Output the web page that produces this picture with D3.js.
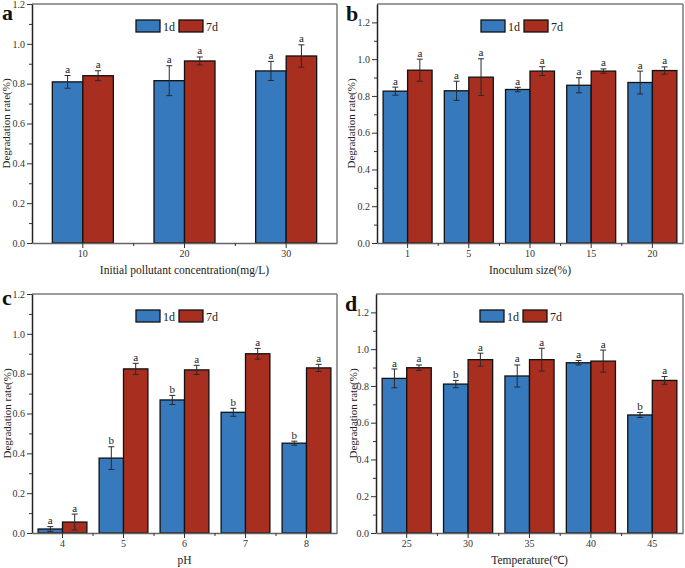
<!DOCTYPE html>
<html><head><meta charset="utf-8">
<script src="https://cdn.jsdelivr.net/npm/d3@7"></script>
<style>
body{margin:0;background:#fff}
svg{display:block}
text{font-family:"Liberation Serif","Times New Roman",serif}
</style>
</head><body>
<svg id="chart" width="685" height="568"></svg>
<script>
// ---- data ----
const seriesNames = ["1d", "7d"];

const catsA = ["10", "20", "30"];
const a1d = [0.809, 0.815, 0.864];
const a7d = [0.840, 0.914, 0.939];
const a1dErr = [0.032, 0.075, 0.048];
const a7dErr = [0.025, 0.020, 0.056];
const a1dSig = ["a", "a", "a"];
const a7dSig = ["a", "a", "a"];

const catsB = ["1", "5", "10", "15", "20"];
const b1d = [0.826, 0.828, 0.835, 0.858, 0.873];
const b7d = [0.940, 0.902, 0.935, 0.935, 0.938];
const b1dErr = [0.022, 0.052, 0.012, 0.041, 0.062];
const b7dErr = [0.060, 0.100, 0.024, 0.012, 0.020];
const b1dSig = ["a", "a", "a", "a", "a"];
const b7dSig = ["a", "a", "a", "a", "a"];

const catsC = ["4", "5", "6", "7", "8"];
const c1d = [0.020, 0.376, 0.668, 0.606, 0.451];
const c7d = [0.055, 0.824, 0.819, 0.900, 0.829];
const c1dErr = [0.012, 0.057, 0.023, 0.020, 0.010];
const c7dErr = [0.040, 0.028, 0.023, 0.027, 0.018];
const c1dSig = ["a", "b", "b", "b", "b"];
const c7dSig = ["a", "a", "a", "a", "a"];

const catsD = ["25", "30", "35", "40", "45"];
const d1d = [0.841, 0.810, 0.854, 0.926, 0.642];
const d7d = [0.899, 0.943, 0.943, 0.935, 0.830];
const d1dErr = [0.051, 0.020, 0.060, 0.012, 0.014];
const d7dErr = [0.015, 0.035, 0.062, 0.060, 0.021];
const d1dSig = ["a", "b", "a", "a", "b"];
const d7dSig = ["a", "a", "a", "a", "a"];

const yTicks = [0, 0.2, 0.4, 0.6, 0.8, 1.0, 1.2];
const yMinor = [0.1, 0.3, 0.5, 0.7, 0.9, 1.1];

// ---- layout ----
const colors = ["#3779bd", "#a82e1f"];
const panels = [
  {letter:"a", x0:32, x1:337, y0:4, y1:243, ymax:1.2, cats:catsA, v:[a1d,a7d], e:[a1dErr,a7dErr], s:[a1dSig,a7dSig],
   pi:0.4, po:0.2, xtitle:"Initial pollutant concentration(mg/L)", lx:2, ly:20, ytx:10},
  {letter:"b", x0:377, x1:683, y0:4, y1:243, ymax:1.3, cats:catsB, v:[b1d,b7d], e:[b1dErr,b7dErr], s:[b1dSig,b7dSig],
   pi:0.2, po:0.1, xtitle:"Inoculum size(%)", lx:346, ly:21, ytx:355},
  {letter:"c", x0:32, x1:337, y0:294, y1:533, ymax:1.2, cats:catsC, v:[c1d,c7d], e:[c1dErr,c7dErr], s:[c1dSig,c7dSig],
   pi:0.2, po:0.1, xtitle:"pH", lx:2, ly:305, ytx:11},
  {letter:"d", x0:376, x1:683, y0:294, y1:533, ymax:1.3, cats:catsD, v:[d1d,d7d], e:[d1dErr,d7dErr], s:[d1dSig,d7dSig],
   pi:0.2, po:0.1, xtitle:"Temperature(\u2103)", lx:345, ly:311, ytx:357}
];

const svg = d3.select("#chart");

panels.forEach(p => {
  const g = svg.append("g");
  const x = d3.scaleBand().domain(p.cats).range([p.x0, p.x1]).paddingInner(p.pi).paddingOuter(p.po);
  const xs = d3.scaleBand().domain(seriesNames).range([0, x.bandwidth()]);
  const y = d3.scaleLinear().domain([0, p.ymax]).range([p.y1, p.y0]);

  // bars
  seriesNames.forEach((sn, si) => {
    g.append("g").selectAll("rect").data(p.cats).join("rect")
      .attr("x", c => x(c) + xs(sn))
      .attr("y", (c, i) => y(p.v[si][i]))
      .attr("width", xs.bandwidth())
      .attr("height", (c, i) => y(0) - y(p.v[si][i]))
      .attr("fill", colors[si])
      .attr("stroke", "#111")
      .attr("stroke-width", 1.3);
  });

  // error bars and significance letters
  seriesNames.forEach((sn, si) => {
    const eg = g.append("g").attr("stroke", "#2a2a2a").attr("stroke-width", 1);
    p.cats.forEach((c, i) => {
      const cx = x(c) + xs(sn) + xs.bandwidth() / 2;
      const v = p.v[si][i], e = p.e[si][i];
      const top = y(v + e), bot = y(Math.max(0, v - e));
      eg.append("line").attr("x1", cx).attr("x2", cx).attr("y1", top).attr("y2", bot);
      eg.append("line").attr("x1", cx - 3).attr("x2", cx + 3).attr("y1", top).attr("y2", top);
      eg.append("line").attr("x1", cx - 3).attr("x2", cx + 3).attr("y1", bot).attr("y2", bot);
      g.append("text").attr("x", cx).attr("y", top - 2.5)
        .attr("text-anchor", "middle").attr("font-size", 11).attr("fill", "#222")
        .text(p.s[si][i]);
    });
  });

  // frame: top and right
  g.append("line").attr("x1", p.x0).attr("x2", p.x1).attr("y1", p.y0).attr("y2", p.y0)
    .attr("stroke", "#7a7a7a").attr("stroke-width", 1.5);
  g.append("line").attr("x1", p.x1).attr("x2", p.x1).attr("y1", p.y0).attr("y2", p.y1)
    .attr("stroke", "#7a7a7a").attr("stroke-width", 1.5);

  // y axis
  const yAxis = d3.axisLeft(y).tickValues(yTicks).tickSize(5).tickSizeOuter(0)
    .tickFormat(d3.format(".1f"));
  const ya = g.append("g").attr("transform", `translate(${p.x0},0)`).call(yAxis);
  ya.select(".domain").attr("stroke", "#222").attr("stroke-width", 1.5);
  ya.selectAll(".tick line").attr("stroke", "#333");
  ya.selectAll(".tick text").attr("font-family", "Liberation Serif").attr("font-size", 10).attr("fill", "#333").attr("x", -7);
  const yMin = d3.axisLeft(y).tickValues(yMinor).tickSize(3).tickSizeOuter(0).tickFormat("");
  const ym = g.append("g").attr("transform", `translate(${p.x0},0)`).call(yMin);
  ym.select(".domain").remove();
  ym.selectAll(".tick line").attr("stroke", "#333");

  // x axis
  const xAxis = d3.axisBottom(x).tickSize(5).tickSizeOuter(0);
  const xa = g.append("g").attr("transform", `translate(0,${p.y1})`).call(xAxis);
  xa.select(".domain").attr("stroke", "#666").attr("stroke-width", 1.5);
  xa.selectAll(".tick line").attr("stroke", "#333");
  xa.selectAll(".tick text").attr("font-family", "Liberation Serif").attr("font-size", 10).attr("fill", "#333").attr("dy", null).attr("y", 14);
  // minor x ticks between categories
  const bounds = p.cats.slice(1).map(c => x(c) - x.step() * p.pi / 2);
  g.append("g").selectAll("line").data(bounds).join("line")
    .attr("x1", d => d).attr("x2", d => d).attr("y1", p.y1).attr("y2", p.y1 + 3)
    .attr("stroke", "#333");

  // titles
  g.append("text").attr("x", (p.x0 + p.x1) / 2).attr("y", p.y1 + 31)
    .attr("text-anchor", "middle").attr("font-size", 11.5).attr("fill", "#222").text(p.xtitle);
  g.append("text").attr("transform", `translate(${p.ytx},${(p.y0 + p.y1) / 2}) rotate(-90)`)
    .attr("text-anchor", "middle").attr("font-size", 11).attr("fill", "#222").text("Degradation rate(%)");
  g.append("text").attr("x", p.lx).attr("y", p.ly).attr("font-size", 22).attr("font-weight", "bold")
    .attr("fill", "#111").text(p.letter);

  // legend
  const lg = g.append("g").attr("transform", `translate(${p.x0 + 104},${p.y0 + 16})`);
  seriesNames.forEach((sn, si) => {
    const ox = si * 43;
    lg.append("rect").attr("x", ox).attr("y", 0).attr("width", 24).attr("height", 12)
      .attr("fill", colors[si]).attr("stroke", "#111").attr("stroke-width", 1.3);
    lg.append("text").attr("x", ox + 27).attr("y", 11).attr("font-size", 12).attr("fill", "#222").text(sn);
  });
});
</script>
</body></html>
